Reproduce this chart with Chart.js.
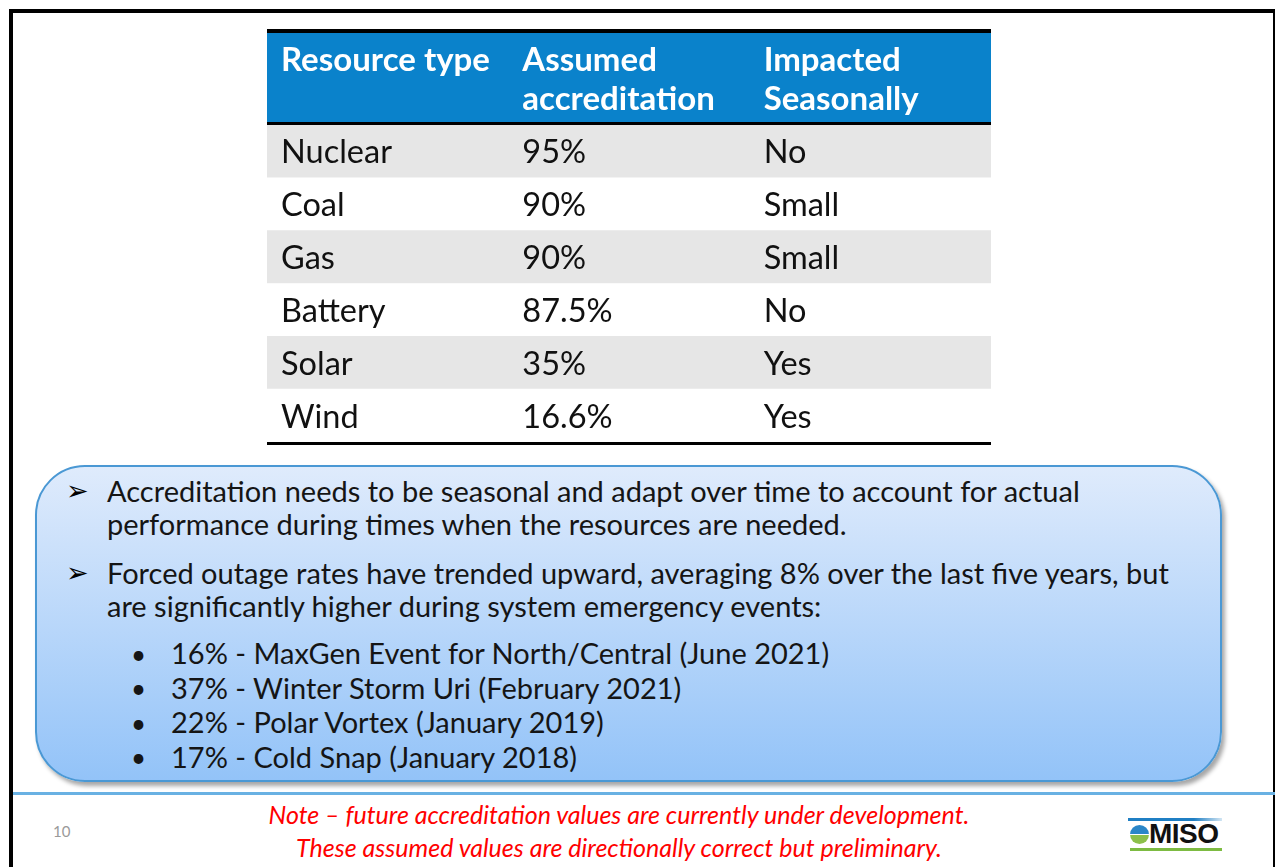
<!DOCTYPE html>
<html>
<head>
<meta charset="utf-8">
<script src="https://cdn.jsdelivr.net/npm/chart.js@4.4.1/dist/chart.umd.min.js"></script>
<style>
  html, body { margin: 0; padding: 0; background: #fff; }
  body { width: 1275px; height: 867px; position: relative; overflow: hidden; font-family: Lato, "Open Sans", sans-serif; }
  .frame { position: absolute; left: 9px; top: 9px; width: 1260px; height: 900px;
           border-top: 4px solid #000; border-left: 4px solid #000; border-right: 2px solid #000; }
  #tableWrap { position: absolute; left: 267px; top: 29px; width: 724px; height: 416px; }
  .box { position: absolute; left: 35px; top: 465px; width: 1183px; height: 313px;
         border: 2px solid #4a98d4; border-radius: 50px;
         background: linear-gradient(#dfebfc, #93c3f8);
         box-shadow: 3px 4px 4px rgba(0,0,0,0.35); }
  .t { position: absolute; white-space: nowrap; color: #151515; }
  .rule { position: absolute; left: 13px; top: 792px; width: 1262px; height: 3px; background: #69b1e3; }
  .logo-top { position: absolute; left: 1128px; top: 818px; width: 94px; height: 3px;
              background: linear-gradient(90deg, #1f7fc4 70%, rgba(31,127,196,0.2)); }
  .logo-bot { position: absolute; left: 1130px; top: 848px; width: 92px; height: 3px; background: #7dbb42; }
  .globe { position: absolute; left: 1130px; top: 825px; width: 19px; height: 19px; border-radius: 50%;
           background: linear-gradient(#2a86c8 0 45%, #fff 45% 52%, #8cc04b 52% 100%); }
</style>
</head>
<body>
<div class="frame"></div>
<div id="tableWrap"><canvas id="tableChart" width="724" height="416"></canvas></div>
<div class="box"></div>
<div id="texts"></div>
<div class="rule"></div>
<div class="logo-top"></div>
<div class="globe"></div>
<div class="logo-bot"></div>
<script>
// table contents
const headers = [['Resource type'], ['Assumed', 'accreditation'], ['Impacted', 'Seasonally']];
const resourceTypes = ['Nuclear', 'Coal', 'Gas', 'Battery', 'Solar', 'Wind'];
const accreditation = [95, 90, 90, 87.5, 35, 16.6];
const seasonal = ['No', 'Small', 'Small', 'No', 'Yes', 'Yes'];

// text in the blue box and footer
const mainBullets = [
  ['Accreditation needs to be seasonal and adapt over time to account for actual',
   'performance during times when the resources are needed.'],
  ['Forced outage rates have trended upward, averaging 8% over the last five years, but',
   'are significantly higher during system emergency events:']
];
const subBullets = [
  '16% - MaxGen Event for North/Central (June 2021)',
  '37% - Winter Storm Uri (February 2021)',
  '22% - Polar Vortex (January 2019)',
  '17% - Cold Snap (January 2018)'
];
const noteLines = [
  'Note \u2013 future accreditation values are currently under development.',
  'These assumed values are directionally correct but preliminary.'
];
const pageNumber = '10';

const PAD = 14;

const tablePlugin = {
  id: 'tableText',
  beforeDatasetsDraw(chart) {
    const { ctx, chartArea: a } = chart;
    ctx.save();
    ctx.fillStyle = '#000';
    ctx.fillRect(a.left, 0, a.width, 4);
    ctx.fillStyle = '#0a82cb';
    ctx.fillRect(a.left, 4, a.width, a.top - 7);
    ctx.fillStyle = '#000';
    ctx.fillRect(a.left, a.top - 3, a.width, 3);
    ctx.restore();
  },
  afterDatasetsDraw(chart) {
    const { ctx, chartArea: a, scales: { x, y } } = chart;
    ctx.save();
    ctx.fillStyle = '#000';
    ctx.fillRect(a.left, a.bottom, a.width, 3);

    ctx.textBaseline = 'alphabetic';
    ctx.fillStyle = '#fff';
    ctx.font = 'bold 33px Lato';
    headers.forEach((lines, c) => {
      lines.forEach((s, k) => ctx.fillText(s, x.getPixelForValue(c) + PAD, 42 + k * 39));
    });

    ctx.fillStyle = '#111';
    ctx.font = '32.5px Lato';
    resourceTypes.forEach((name, i) => {
      const yb = y.getPixelForValue(i) + 12;
      ctx.fillText(name, x.getPixelForValue(0) + PAD, yb);
      ctx.fillText(accreditation[i] + '%', x.getPixelForValue(1) + PAD, yb);
      ctx.fillText(seasonal[i], x.getPixelForValue(2) + PAD, yb);
    });
    ctx.restore();
  }
};

new Chart(document.getElementById('tableChart'), {
  type: 'bar',
  data: {
    labels: resourceTypes,
    datasets: [{
      data: resourceTypes.map(() => [0, headers.length]),
      backgroundColor: c => (c.dataIndex % 2 === 0 ? '#e6e6e6' : '#ffffff'),
      borderWidth: 0,
      barPercentage: 1,
      categoryPercentage: 1
    }]
  },
  options: {
    indexAxis: 'y',
    responsive: false,
    animation: false,
    devicePixelRatio: 1,
    layout: { padding: { top: 96, bottom: 3, left: 0, right: 0 } },
    scales: {
      x: { display: false, min: 0, max: headers.length },
      y: { display: false }
    },
    plugins: { legend: { display: false }, tooltip: { enabled: false } }
  },
  plugins: [tablePlugin]
});

// HTML text placed by baseline
const holder = document.getElementById('texts');
function put(text, x, baseline, size, extra) {
  const d = document.createElement('div');
  d.className = 't';
  d.textContent = text;
  d.style.fontSize = size + 'px';
  d.style.lineHeight = size + 'px';
  d.style.left = x + 'px';
  d.style.top = (baseline - 0.887 * size) + 'px';
  if (extra) Object.assign(d.style, extra);
  holder.appendChild(d);
  return d;
}

const mainBase = [[502, 535], [584, 617]];
mainBullets.forEach((lines, b) => {
  put('\u27A2', 66, mainBase[b][0] - 1, 27, { fontFamily: '"DejaVu Sans"', color: '#000' });
  lines.forEach((s, k) => put(s, 107, mainBase[b][k], 29));
});
subBullets.forEach((s, i) => {
  const base = 664 + i * 34.5;
  put('\u2022', 131, base, 26);
  put(s, 171, base, 29);
});

noteLines.forEach((s, i) => {
  put(s, 0, 824 + i * 33, 25, { color: '#ff0000', fontStyle: 'italic', width: '1238px', textAlign: 'center' });
});
put(pageNumber, 53, 837, 15, { color: '#9a9a9a' });
put('MISO', 1149, 845, 28, { fontFamily: '"Liberation Sans", Arial', fontWeight: 'bold', color: '#111', letterSpacing: '-0.5px' });
</script>
</body>
</html>
